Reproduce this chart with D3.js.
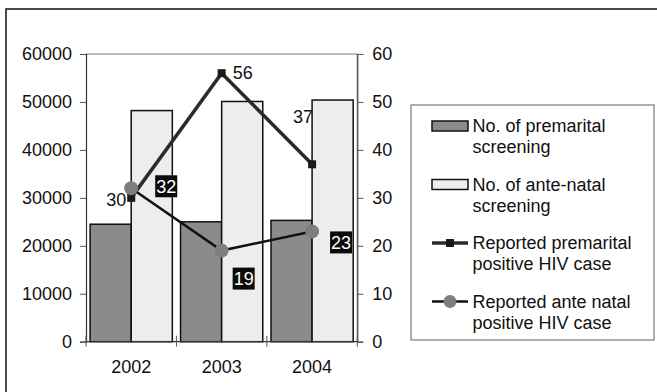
<!DOCTYPE html>
<html>
<head>
<meta charset="utf-8">
<script src="https://cdn.jsdelivr.net/npm/d3@7"></script>
<style>
  html, body { margin: 0; padding: 0; background: #fff; }
  svg { display: block; font-family: "Liberation Sans", Arial, sans-serif; }
</style>
</head>
<body>
<svg id="chart" width="657" height="392"></svg>
<script>
// Screening counts (left axis) and reported HIV cases (right axis)
const years = ["2002", "2003", "2004"];
const premaritalScreening = [24500, 25000, 25300];
const antenatalScreening = [48200, 50100, 50400];
const premaritalHIV = [30, 56, 37];
const antenatalHIV = [32, 19, 23];
const leftTicks = [0, 10000, 20000, 30000, 40000, 50000, 60000];
const rightTicks = [0, 10, 20, 30, 40, 50, 60];
const legendLabels = [
  ["No. of premarital", "screening"],
  ["No. of ante-natal", "screening"],
  ["Reported premarital", "positive HIV case"],
  ["Reported ante natal", "positive HIV case"]
];

// Label placement relative to each point
const premLabelLayout = [
  { dx: -5, dy: 2, anchor: "end" },
  { dx: 11, dy: 0, anchor: "start" },
  { dx: 1, dy: -48, anchor: "end" }
];
const anteLabelLayout = [
  { dx: 35, dy: -2 },
  { dx: 22, dy: 28 },
  { dx: 29, dy: 11 }
];

const svg = d3.select("#chart");
const plot = { left: 86, right: 357.3, top: 54, bottom: 341.7 };
const FONT = 18;

const COL_PREM = "#8b8b8b";
const COL_ANTE = "#ededed";

// Outer frame
svg.append("rect")
  .attr("x", 6).attr("y", 9).attr("width", 660).attr("height", 400)
  .attr("fill", "#fff").attr("stroke", "#111").attr("stroke-width", 1.5);

const x = d3.scaleBand().domain(years).range([plot.left, plot.right]).paddingInner(0).paddingOuter(0);
const xInner = d3.scaleBand().domain([0, 1]).range([0, x.bandwidth()]).paddingInner(0).paddingOuter(0.1);
const yL = d3.scaleLinear().domain([0, 60000]).range([plot.bottom, plot.top]);
const yR = d3.scaleLinear().domain([0, 60]).range([plot.bottom, plot.top]);

// Plot area frame (top and right edge)
svg.append("path")
  .attr("d", `M${plot.left},${plot.top}H${plot.right}V${plot.bottom}`)
  .attr("fill", "none").attr("stroke", "#777").attr("stroke-width", 1.2);

// Bars
const groups = svg.append("g").selectAll("g").data(years).join("g")
  .attr("transform", d => `translate(${x(d)},0)`);
groups.append("rect")
  .attr("x", xInner(0)).attr("width", xInner.bandwidth())
  .attr("y", (d, i) => yL(premaritalScreening[i]))
  .attr("height", (d, i) => yL(0) - yL(premaritalScreening[i]))
  .attr("fill", COL_PREM).attr("stroke", "#111").attr("stroke-width", 1.5);
groups.append("rect")
  .attr("x", xInner(1)).attr("width", xInner.bandwidth())
  .attr("y", (d, i) => yL(antenatalScreening[i]))
  .attr("height", (d, i) => yL(0) - yL(antenatalScreening[i]))
  .attr("fill", COL_ANTE).attr("stroke", "#111").attr("stroke-width", 1.5);

// Left axis
const leftAxis = svg.append("g").attr("transform", `translate(${plot.left},0)`)
  .call(d3.axisLeft(yL).tickValues(leftTicks).tickSize(6).tickPadding(8).tickFormat(d3.format("d")));
leftAxis.select(".domain").attr("stroke", "#333").attr("stroke-width", 1.2);
leftAxis.selectAll(".tick line").attr("stroke", "#555");
leftAxis.selectAll("text").attr("font-size", FONT).attr("fill", "#111").attr("font-family", "Liberation Sans, Arial, sans-serif");

// Right axis
const rightAxis = svg.append("g").attr("transform", `translate(${plot.right},0)`)
  .call(d3.axisRight(yR).tickValues(rightTicks).tickSize(6).tickPadding(9));
rightAxis.select(".domain").attr("stroke", "#555").attr("stroke-width", 1.2);
rightAxis.selectAll(".tick line").attr("stroke", "#555");
rightAxis.selectAll("text").attr("font-size", FONT).attr("fill", "#111").attr("font-family", "Liberation Sans, Arial, sans-serif");

// Category axis with boundary ticks
const baseG = svg.append("g");
baseG.append("line")
  .attr("x1", plot.left).attr("x2", plot.right)
  .attr("y1", plot.bottom).attr("y2", plot.bottom)
  .attr("stroke", "#333").attr("stroke-width", 1.2);
const boundaries = years.map(d => x(d)).concat([x(years[years.length - 1]) + x.bandwidth()]);
baseG.selectAll("line.tk").data(boundaries).join("line")
  .attr("class", "tk")
  .attr("x1", d => d).attr("x2", d => d)
  .attr("y1", plot.bottom - 6).attr("y2", plot.bottom + 5)
  .attr("stroke", "#555").attr("stroke-width", 1);
baseG.selectAll("text").data(years).join("text")
  .attr("x", d => x(d) + x.bandwidth() / 2)
  .attr("y", 373)
  .attr("text-anchor", "middle")
  .attr("font-size", FONT).attr("fill", "#111")
  .text(d => d);

const cx = d => x(d) + x.bandwidth() / 2;

// Premarital HIV line
const premLine = d3.line().x((d, i) => cx(years[i])).y(d => yR(d));
svg.append("path").datum(premaritalHIV)
  .attr("d", premLine).attr("fill", "none")
  .attr("stroke", "#2b2b2b").attr("stroke-width", 3.5).attr("stroke-linejoin", "miter");
svg.append("g").selectAll("rect").data(premaritalHIV).join("rect")
  .attr("x", (d, i) => cx(years[i]) - 4).attr("y", d => yR(d) - 4)
  .attr("width", 8).attr("height", 8).attr("fill", "#1a1a1a");

// Antenatal HIV line
const anteLine = d3.line().x((d, i) => cx(years[i])).y(d => yR(d));
svg.append("path").datum(antenatalHIV)
  .attr("d", anteLine).attr("fill", "none")
  .attr("stroke", "#111").attr("stroke-width", 2.5);
svg.append("g").selectAll("circle").data(antenatalHIV).join("circle")
  .attr("cx", (d, i) => cx(years[i])).attr("cy", d => yR(d))
  .attr("r", 7).attr("fill", "#7e7e7e");

// Premarital value labels
svg.append("g").selectAll("text").data(premaritalHIV).join("text")
  .attr("x", (d, i) => cx(years[i]) + premLabelLayout[i].dx)
  .attr("y", (d, i) => yR(d) + premLabelLayout[i].dy)
  .attr("dy", "0.35em")
  .attr("text-anchor", (d, i) => premLabelLayout[i].anchor)
  .attr("font-size", FONT).attr("fill", "#111")
  .text(d => d);

// Antenatal value labels in dark boxes
const anteLabels = svg.append("g").selectAll("g").data(antenatalHIV).join("g")
  .attr("transform", (d, i) => `translate(${cx(years[i]) + anteLabelLayout[i].dx},${yR(d) + anteLabelLayout[i].dy})`);
anteLabels.append("rect")
  .attr("x", -11).attr("y", -11).attr("width", 22).attr("height", 22)
  .attr("fill", "#0a0a0a");
anteLabels.append("text")
  .attr("text-anchor", "middle").attr("dy", "0.35em")
  .attr("font-size", FONT).attr("fill", "#fff")
  .text(d => d);

// Legend
const legend = svg.append("g");
legend.append("rect")
  .attr("x", 411).attr("y", 105).attr("width", 243).attr("height", 235)
  .attr("fill", "#fff").attr("stroke", "#777").attr("stroke-width", 1.2);

const legendTop = 126, legendStep = 58.5, lineH = 21;
const item = legend.selectAll("g.item").data(legendLabels).join("g")
  .attr("class", "item")
  .attr("transform", (d, i) => `translate(0,${legendTop + i * legendStep})`);

item.each(function (d, i) {
  const g = d3.select(this);
  if (i < 2) {
    g.append("rect")
      .attr("x", 432).attr("y", -5).attr("width", 36).attr("height", 10)
      .attr("fill", i === 0 ? COL_PREM : COL_ANTE)
      .attr("stroke", "#111").attr("stroke-width", 1.5);
  } else if (i === 2) {
    g.append("line").attr("x1", 432).attr("x2", 468).attr("y1", 0).attr("y2", 0)
      .attr("stroke", "#2b2b2b").attr("stroke-width", 3.5);
    g.append("rect").attr("x", 446).attr("y", -4).attr("width", 8).attr("height", 8)
      .attr("fill", "#1a1a1a");
  } else {
    g.append("line").attr("x1", 432).attr("x2", 468).attr("y1", 0).attr("y2", 0)
      .attr("stroke", "#111").attr("stroke-width", 2.5);
    g.append("circle").attr("cx", 450).attr("cy", 0).attr("r", 6.5).attr("fill", "#7e7e7e");
  }
  g.selectAll("text").data(d).join("text")
    .attr("x", 472.5)
    .attr("y", (t, j) => j * lineH)
    .attr("dy", "0.35em")
    .attr("font-size", FONT).attr("fill", "#111")
    .text(t => t);
});
</script>
</body>
</html>
